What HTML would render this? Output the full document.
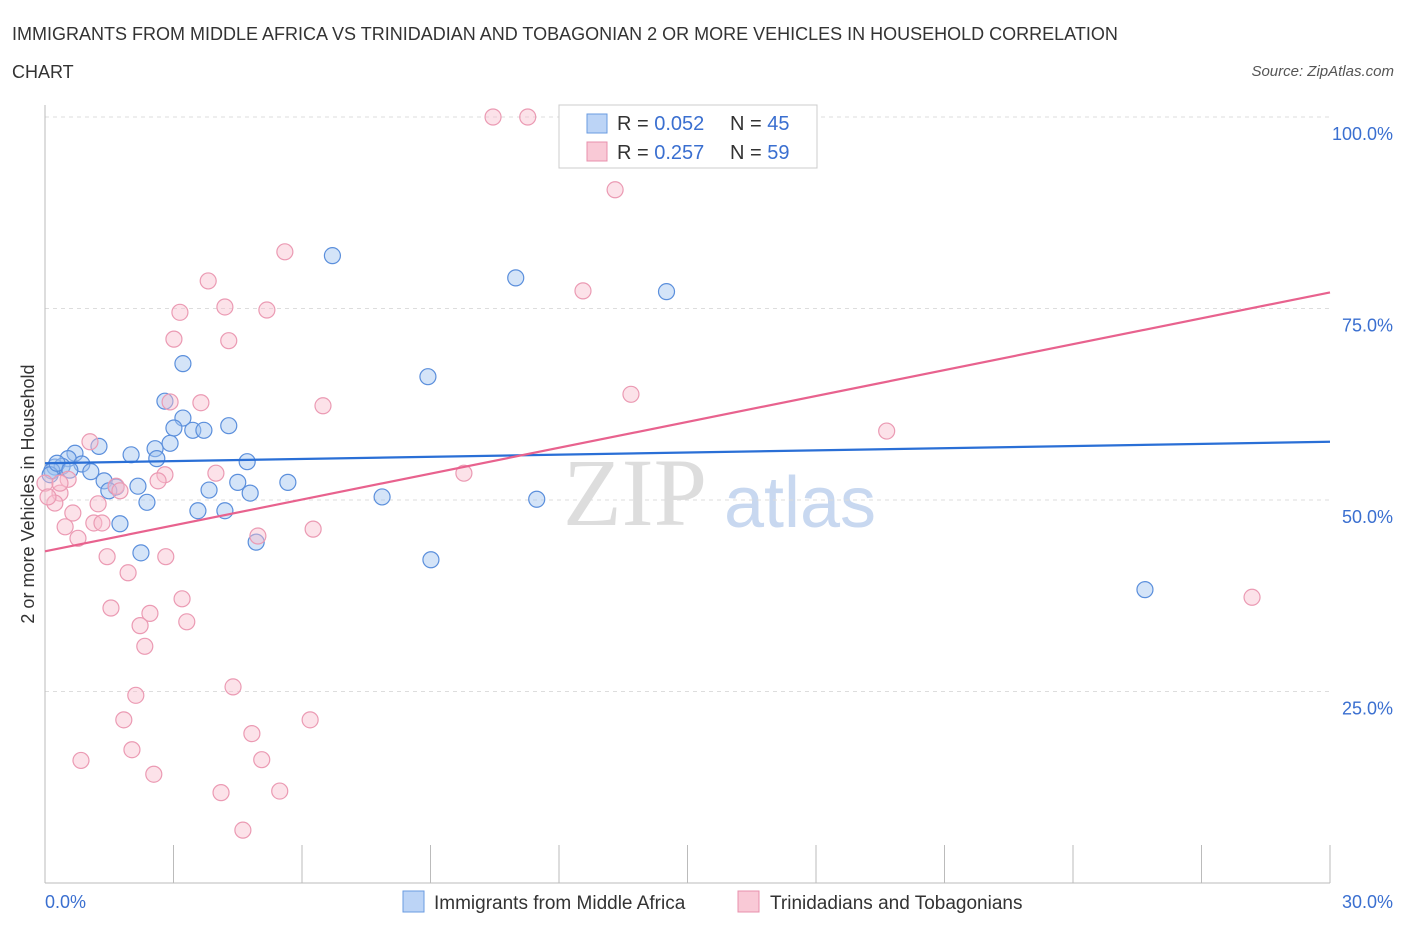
<!DOCTYPE html>
<html><head><meta charset="utf-8"><style>
body{margin:0;background:#fff;font-family:"Liberation Sans",sans-serif;}
</style></head><body>
<svg id="c" width="1406" height="930" xmlns="http://www.w3.org/2000/svg">
<text x="12" y="40" font-size="18" fill="#333">IMMIGRANTS FROM MIDDLE AFRICA VS TRINIDADIAN AND TOBAGONIAN 2 OR MORE VEHICLES IN HOUSEHOLD CORRELATION</text>
<text x="12" y="78" font-size="18" fill="#333">CHART</text>
<text x="1394" y="76" font-size="15" fill="#555" text-anchor="end" font-style="italic">Source: ZipAtlas.com</text>
<text x="635" y="525" font-size="96" fill="#ddd" text-anchor="middle" font-family="Liberation Serif,serif">ZIP</text>
<text x="800" y="527" font-size="72" fill="#c8d8f0" text-anchor="middle">atlas</text>
<g id="grid"></g><g id="pts"></g><g id="lines"></g>
<text transform="translate(34,494) rotate(-90)" font-size="18" fill="#333" text-anchor="middle">2 or more Vehicles in Household</text>
<text x="45" y="908" font-size="18" fill="#3a6fd0">0.0%</text>
<text x="1393" y="908" font-size="18" fill="#3a6fd0" text-anchor="end">30.0%</text>
<g>
<rect x="559" y="105" width="258" height="63" fill="#fff" stroke="#ccc"/>
<rect x="587" y="114" width="20" height="19" fill="#bcd4f6" stroke="#6a9be0"/>
<rect x="587" y="142" width="20" height="19" fill="#f9c9d6" stroke="#e890ac"/>
<text x="617" y="130" font-size="20" fill="#333">R = <tspan fill="#3a6fd0">0.052</tspan></text>
<text x="730" y="130" font-size="20" fill="#333">N = <tspan fill="#3a6fd0">45</tspan></text>
<text x="617" y="159" font-size="20" fill="#333">R = <tspan fill="#3a6fd0"> 0.257</tspan></text>
<text x="730" y="159" font-size="20" fill="#333">N = <tspan fill="#3a6fd0">59</tspan></text>
</g>
<g>
<rect x="403" y="891" width="21" height="21" fill="#bcd4f6" stroke="#6a9be0"/>
<text x="434" y="909" font-size="19" fill="#333">Immigrants from Middle Africa</text>
<rect x="738" y="891" width="21" height="21" fill="#f9c9d6" stroke="#e890ac"/>
<text x="770" y="909" font-size="19" fill="#333">Trinidadians and Tobagonians</text>
</g>
</svg>
<script>
const yTicks=[25,50,75,100];
const yTickLabels=["25.0%","50.0%","75.0%","100.0%"];
const xTickVals=[0,3,6,9,12,15,18,21,24,27,30];
const blueX=[6.71,10.99,14.51,8.94,3.22,2.80,3.22,3.01,3.45,3.71,4.29,2.92,2.57,2.01,2.61,4.72,1.26,0.70,0.54,0.23,0.40,0.86,1.07,1.38,1.66,1.49,2.17,2.38,3.83,4.50,4.79,5.67,7.87,11.48,3.57,4.20,1.75,2.24,4.93,9.01,25.68,0.16,0.12,0.28,0.58];
const blueY=[81.9,79.0,77.2,66.1,67.8,62.9,60.7,59.4,59.1,59.1,59.7,57.4,56.7,55.9,55.4,55.0,57.0,56.1,55.4,54.3,54.4,54.7,53.7,52.5,51.7,51.2,51.8,49.7,51.3,52.3,50.9,52.3,50.4,50.1,48.6,48.6,46.9,43.1,44.5,42.2,38.3,53.8,53.3,54.8,53.9];
const pinkX=[10.46,11.27,13.31,5.60,3.81,3.15,4.20,5.18,3.01,4.29,12.56,13.68,6.49,3.64,2.92,19.65,1.05,2.80,2.64,3.99,1.66,1.75,9.78,0.54,0.35,0.23,0.65,1.24,1.14,1.33,0.47,0.77,6.26,4.97,1.45,2.82,1.94,3.20,1.54,2.45,2.22,3.31,2.33,4.39,2.12,1.84,6.19,4.83,2.03,0.84,5.06,2.54,4.11,5.48,4.62,28.18,0,0.07,0.35];
const pinkY=[100,100,90.5,82.4,78.6,74.5,75.2,74.8,71.0,70.8,77.3,63.8,62.3,62.7,62.8,59.0,57.6,53.3,52.5,53.5,51.8,51.2,53.5,52.7,50.9,49.6,48.3,49.5,47.0,47.0,46.5,45.0,46.2,45.3,42.6,42.6,40.5,37.1,35.9,35.2,33.6,34.1,30.9,25.6,24.5,21.3,21.3,19.5,17.4,16.0,16.1,14.2,11.8,12.0,6.9,37.3,52.2,50.4,52.2];
const blueTrend=[54.8,57.6];
const pinkTrend=[43.3,77.1];
const X0=45,X1=1330,Y0=883,PX=7.66;
const sx=v=>X0+(X1-X0)*v/30, sy=v=>Y0-v*PX;
const NS="http://www.w3.org/2000/svg";
function mk(tag,attrs,parent){const e=document.createElementNS(NS,tag);for(const k in attrs)e.setAttribute(k,attrs[k]);parent.appendChild(e);return e;}
const grid=document.getElementById('grid');
yTicks.forEach((t,i)=>{
 const l=mk('line',{x1:X0,x2:X1,y1:sy(t),y2:sy(t),stroke:'#ddd','stroke-dasharray':'4,4'},grid);
 
 
 const tx=mk('text',{x:1393,y:sy(t)+23,'font-size':18,fill:'#3a6fd0','text-anchor':'end'},grid);
 tx.textContent=yTickLabels[i];
 
 
});
const ax=mk('line',{x1:X0,x2:X0,y1:105,y2:Y0,stroke:'#bbb'},grid);


const bx=mk('line',{x1:X0,x2:X1,y1:Y0,y2:Y0,stroke:'#bbb'},grid);


xTickVals.forEach(v=>{
 const t=mk('line',{x1:sx(v),x2:sx(v),y1:845,y2:Y0,stroke:'#bbb'},grid);
 
 
});
const pts=document.getElementById('pts');
blueX.forEach((v,i)=>{
 const c=mk('circle',{cx:sx(v),cy:sy(blueY[i]),r:8,fill:'rgba(160,195,240,0.45)',stroke:'#5b8fdc','stroke-width':1.2},pts);
 
 
});
pinkX.forEach((v,i)=>{
 const c=mk('circle',{cx:sx(v),cy:sy(pinkY[i]),r:8,fill:'rgba(248,190,206,0.45)',stroke:'#eb9ab3','stroke-width':1.2},pts);
 
 
});
const lines=document.getElementById('lines');
const bl=mk('line',{x1:sx(0),y1:sy(blueTrend[0]),x2:sx(30),y2:sy(blueTrend[1]),stroke:'#2a6fd6','stroke-width':2.2},lines);


const pl=mk('line',{x1:sx(0),y1:sy(pinkTrend[0]),x2:sx(30),y2:sy(pinkTrend[1]),stroke:'#e8628e','stroke-width':2.2},lines);


</script>
</body></html>
